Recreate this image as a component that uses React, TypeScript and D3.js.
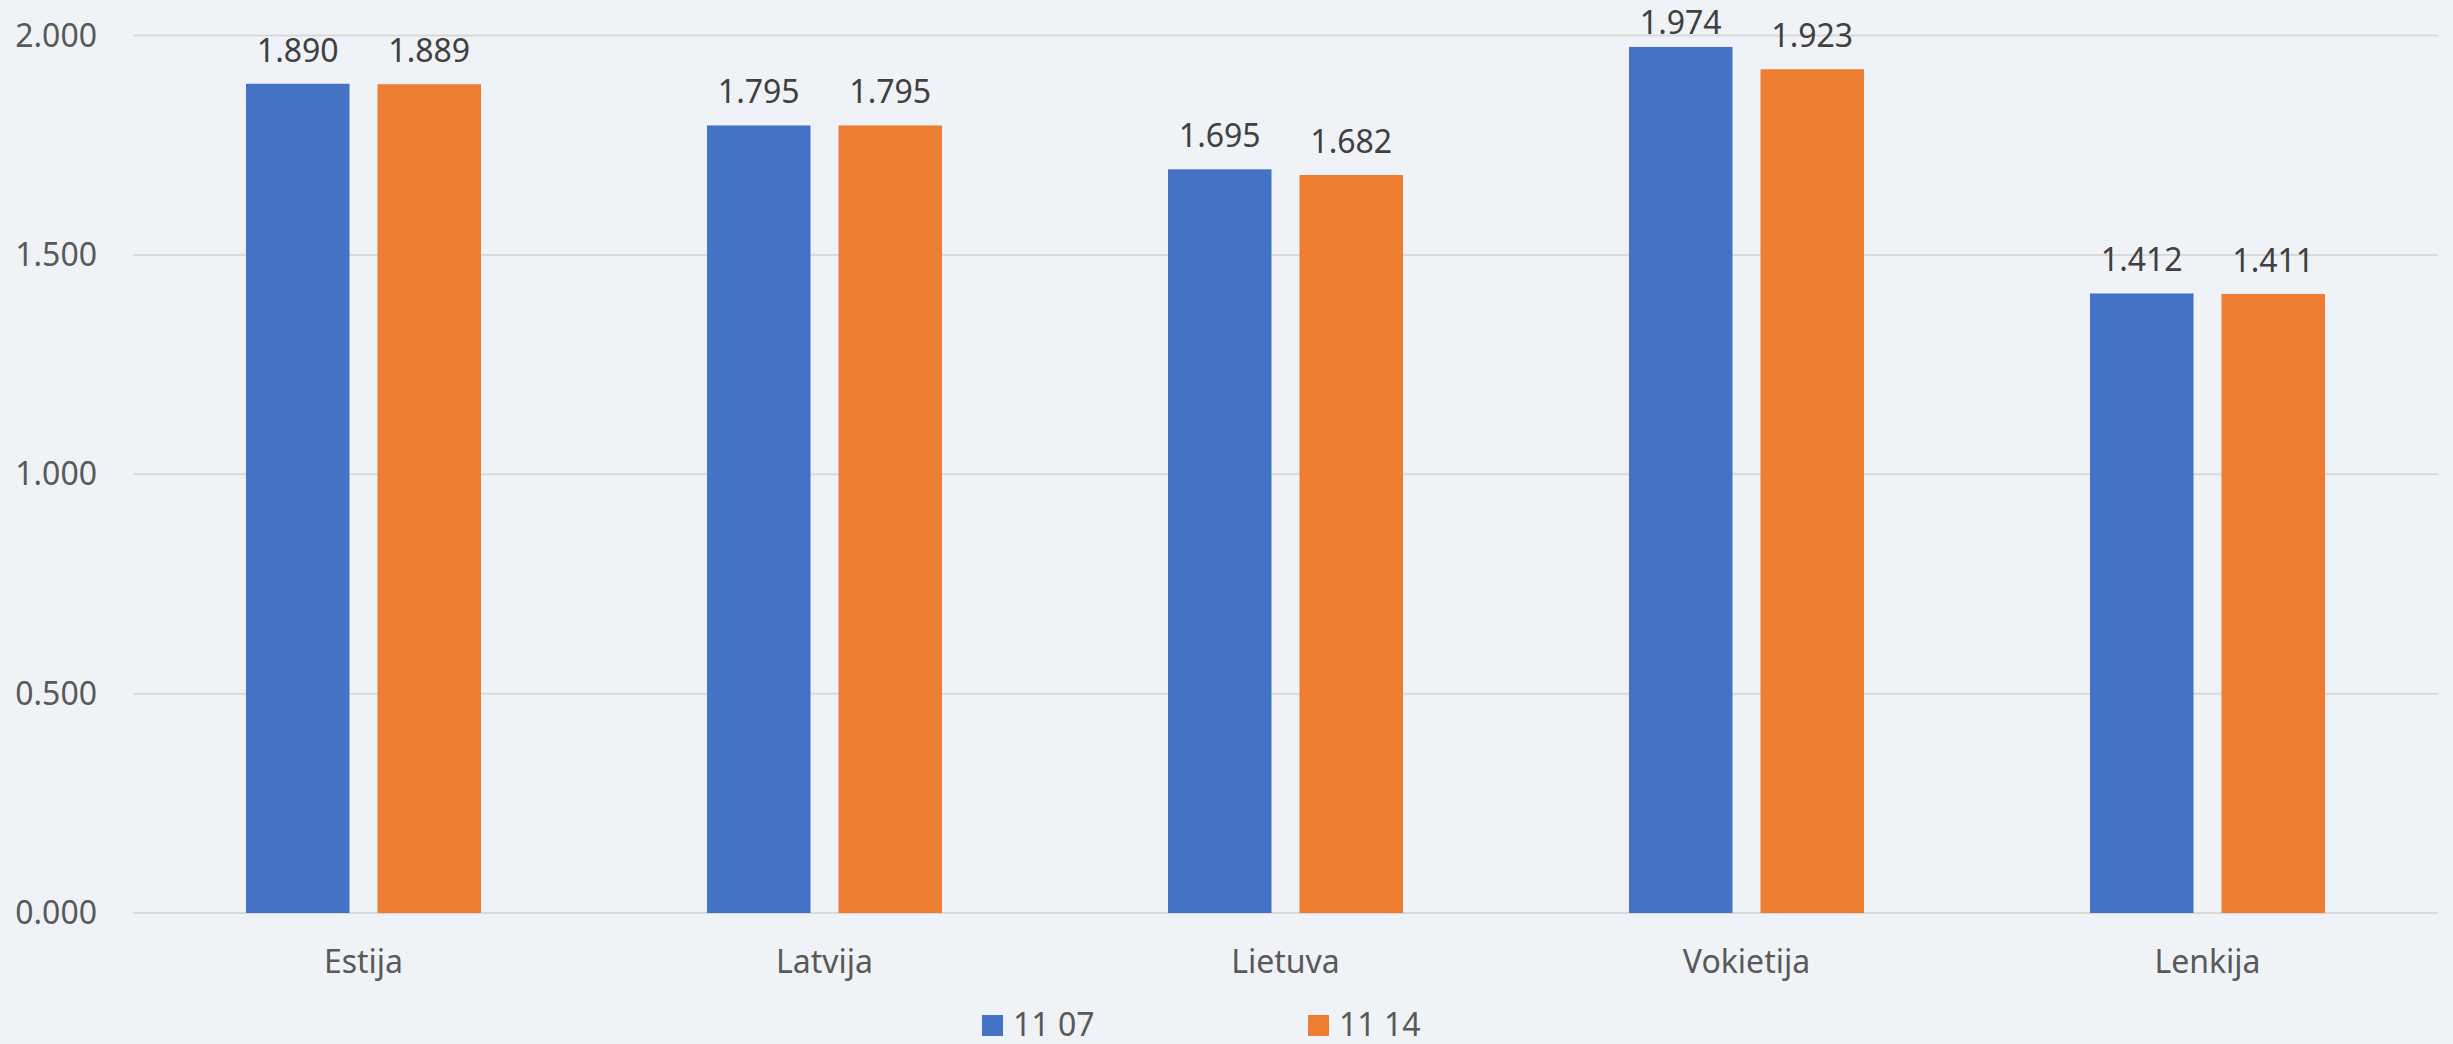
import React, { useEffect, useRef } from "react";
import * as d3 from "d3";

const countries = ["Estija", "Latvija", "Lietuva", "Vokietija", "Lenkija"];
const series = ["11 07", "11 14"];
const values0707 = [1.89, 1.795, 1.695, 1.974, 1.412];
const values1114 = [1.889, 1.795, 1.682, 1.923, 1.411];
const yTicks = [0, 0.5, 1, 1.5, 2];
const colors = ["#4472C4", "#ED7D31"];

const fmt = (v: number) => v.toFixed(3);

const App = () => {
  const svgRef = useRef<SVGSVGElement | null>(null);

  useEffect(() => {
    const width = 2453;
    const height = 1044;
    const margin = { top: 35.5, right: 15, bottom: 131, left: 133 };
    const font = "'Noto Sans', 'Open Sans', sans-serif";

    const svg = d3.select(svgRef.current);
    svg.selectAll("*").remove();

    svg
      .append("rect")
      .attr("width", width)
      .attr("height", height)
      .attr("fill", "#EFF3F7");

    const x = d3
      .scaleBand()
      .domain(countries)
      .range([margin.left, width - margin.right]);

    const y = d3
      .scaleLinear()
      .domain([0, 2])
      .range([height - margin.bottom, margin.top]);

    // two bars per category, 28px apart
    const barW = 103.5;
    const innerGap = 28;
    const xs = d3
      .scaleOrdinal<string, number>()
      .domain(series)
      .range([-(innerGap / 2) - barW, innerGap / 2]);

    // gridlines
    svg
      .append("g")
      .selectAll("line")
      .data(yTicks)
      .enter()
      .append("line")
      .attr("x1", margin.left)
      .attr("x2", width - margin.right)
      .attr("y1", d => y(d))
      .attr("y2", d => y(d))
      .attr("stroke", "#D9D9D9")
      .attr("stroke-width", 2);

    // y labels
    svg
      .append("g")
      .selectAll("text")
      .data(yTicks)
      .enter()
      .append("text")
      .attr("x", 97)
      .attr("y", d => y(d) + 11)
      .attr("text-anchor", "end")
      .style("font-family", font)
      .style("font-size", "32px")
      .style("fill", "#595959")
      .text(d => fmt(d));

    const data = [values0707, values1114];

    data.forEach((vals, si) => {
      const g = svg.append("g");
      g.selectAll("rect")
        .data(vals)
        .enter()
        .append("rect")
        .attr("x", (d, i) => x(countries[i])! + x.bandwidth() / 2 + xs(series[si]))
        .attr("y", d => y(d))
        .attr("width", barW)
        .attr("height", d => y(0) - y(d))
        .attr("fill", colors[si]);

      // labels get pushed down when they would leave the top
      g.selectAll("text")
        .data(vals)
        .enter()
        .append("text")
        .attr(
          "x",
          (d, i) => x(countries[i])! + x.bandwidth() / 2 + xs(series[si]) + barW / 2
        )
        .attr("y", d => Math.max(y(d) - 22, 34))
        .attr("text-anchor", "middle")
        .style("font-family", font)
        .style("font-size", "32px")
        .style("fill", "#404040")
        .text(d => fmt(d));
    });

    // category labels
    svg
      .append("g")
      .selectAll("text")
      .data(countries)
      .enter()
      .append("text")
      .attr("x", d => x(d)! + x.bandwidth() / 2)
      .attr("y", 973)
      .attr("text-anchor", "middle")
      .style("font-family", font)
      .style("font-size", "32px")
      .style("fill", "#595959")
      .text(d => d);

    // legend
    const legendX = [982, 1308];
    const legend = svg
      .append("g")
      .selectAll("g")
      .data(series)
      .enter()
      .append("g")
      .attr("transform", (d, i) => `translate(${legendX[i]},1015)`);

    legend
      .append("rect")
      .attr("width", 21)
      .attr("height", 21)
      .attr("fill", (d, i) => colors[i]);

    legend
      .append("text")
      .attr("x", 31)
      .attr("y", 21)
      .style("font-family", font)
      .style("font-size", "32px")
      .style("fill", "#595959")
      .text(d => d);
  }, []);

  return (
    <svg
      ref={svgRef}
      width={2453}
      height={1044}
      style={{ position: "absolute", left: 0, top: 0, display: "block" }}
    />
  );
};

export default App;
